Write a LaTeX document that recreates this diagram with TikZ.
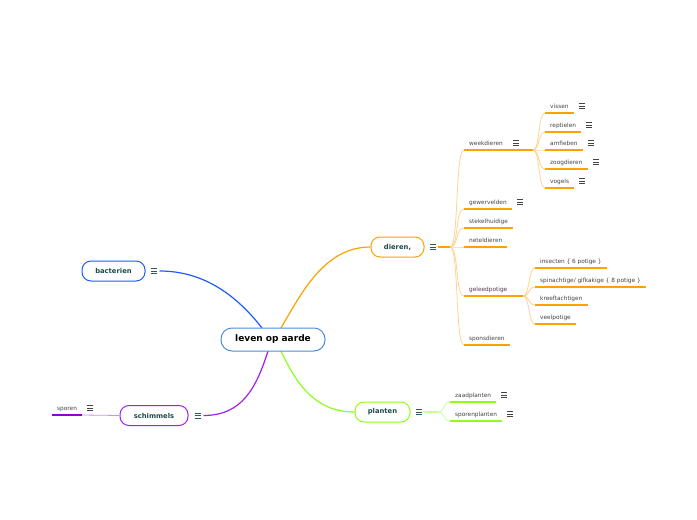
\documentclass[tikz,border=0pt]{standalone}
\usepackage{fontspec}
\setmainfont{DejaVu Sans}
\definecolor{cblue}{HTML}{4A90D9}
\definecolor{bblue}{HTML}{1E5CFF}
\definecolor{orng}{HTML}{FFA200}
\definecolor{lorng}{HTML}{FFD391}
\definecolor{purp}{HTML}{A020F0}
\definecolor{lpurp}{HTML}{CF8FF7}
\definecolor{dpurp}{HTML}{8E00D8}
\definecolor{grn}{HTML}{8CFF1A}
\definecolor{lgrn}{HTML}{C8FF99}
\definecolor{teal}{HTML}{1E4A4A}
\definecolor{icon}{HTML}{2F5A5A}
\definecolor{leafgray}{HTML}{444444}
\begin{document}
\begin{tikzpicture}[x=1pt,y=-1pt,
  central/.style={draw=cblue,line width=1pt,fill=white,rounded corners=11pt,minimum width=104pt,minimum height=23pt,inner sep=0pt,font=\bfseries\fontsize{9pt}{10pt}\selectfont},
  branch/.style={draw=#1,line width=1pt,fill=white,rounded corners=9pt,minimum height=20pt,inner sep=0pt,text=teal,font=\bfseries\fontsize{6.8pt}{8pt}\selectfont},
  leaf/.style={anchor=south west,inner xsep=5pt,inner ysep=4.5pt,text depth=0pt,text height=4pt,text=leafgray,font=\fontsize{5.8pt}{6.5pt}\selectfont},
  under/.style={draw=#1,line width=1.6pt},
  twig/.style={draw=#1,line width=0.8pt},
  mainline/.style={draw=#1,line width=1.2pt},
  menu/.pic={\foreach \dy in {-2.5,0,2.5} \draw[line width=0.9pt] (-3,\dy) -- (3,\dy);}
]
\useasboundingbox (0,0) rectangle (697,520);
\fill[white] (0,0) rectangle (697,520);

% ---------- main branches (drawn first, boxes on top) ----------
\coordinate (cb) at (262,328);
\coordinate (cd) at (281,328);
\coordinate (cs) at (268,351);
\coordinate (cp) at (281,351);

\node[branch=bblue,minimum width=63pt] (bact) at (113.5,271) {bacterien};
\node[branch=orng,minimum width=53pt] (dier) at (397.5,247) {dieren,};
\node[branch=purp,minimum width=68pt] (schim) at (154,415.5) {schimmels};
\node[branch=grn,minimum width=55pt] (plant) at (382.5,412) {planten};

\coordinate (bactend) at ([xshift=14pt]bact.east);
\coordinate (schimend) at ([xshift=15pt]schim.east);
\draw[mainline=bblue] (cb) .. controls +(-25,-32) and +(45,0) .. (bactend);
\draw[mainline=orng] (cd) .. controls +(22,-38) and +(-45,0) .. (dier.west);
\draw[mainline=purp] (cs) .. controls +(-12,38) and +(38,0) .. (schimend);
\draw[mainline=grn] (cp) .. controls +(15,32) and +(-40,0) .. (plant.west);

\node[central] (c) at (273,339.5) {leven op aarde};

\pic[color=icon] at ([xshift=8pt]bact.east) {menu};
\pic[color=icon] at ([xshift=8pt]dier.east) {menu};
\pic[color=icon] at ([xshift=9pt]schim.east) {menu};
\pic[color=icon] at ([xshift=8pt]plant.east) {menu};

% ---------- dieren subtree ----------
\coordinate (dh) at (450,247);
\draw[orng,line width=1.3pt] ([xshift=13pt]dier.east) -- (dh);

\node[leaf] (week) at (464,150) {weekdieren};
\node[leaf] (gewer) at (464,209) {gewervelden};
\node[leaf] (stek) at (464,228) {stekelhuidige};
\node[leaf] (netel) at (464,247) {neteldieren};
\node[leaf] (gele) at (464,296) {geleedpotige};
\node[leaf] (spons) at (464,345) {sponsdieren};

\foreach \n in {week,gewer,stek,netel,gele,spons}
  \draw[twig=lorng] (dh) .. controls +(9,0) and +(-9,0) .. (\n.south west);

\coordinate (wh) at (533,150);
\coordinate (gh) at (523,296);
\draw[under=orng] (week.south west) -- (wh);
\draw[under=orng] (gele.south west) -- (gh);
\foreach \n in {gewer,stek,netel,spons}
  \draw[under=orng] (\n.south west) -- (\n.south east);
\pic[color=leafgray] at ([xshift=8pt]week.east) {menu};
\pic[color=leafgray] at ([xshift=8pt]gewer.east) {menu};

% weekdieren children
\node[leaf] (vis) at (545,113) {vissen};
\node[leaf] (rept) at (545,132) {reptielen};
\node[leaf] (amf) at (545,150) {amfieben};
\node[leaf] (zoog) at (545,169) {zoogdieren};
\node[leaf] (vog) at (545,188) {vogels};
\foreach \n in {vis,rept,amf,zoog,vog}{
  \draw[twig=lorng] (wh) .. controls +(7,0) and +(-7,0) .. (\n.south west);
  \draw[under=orng] (\n.south west) -- (\n.south east);
  \pic[color=leafgray] at ([xshift=8pt]\n.east) {menu};
}

% geleedpotige children
\node[leaf] (ins) at (535,268) {insecten \{ 6 potige \}};
\node[leaf] (spin) at (535,287) {spinachtige/ gifkakige \{ 8 potige \}};
\node[leaf] (kreef) at (535,305) {kreeftachtigen};
\node[leaf] (veel) at (535,324) {veelpotige};
\foreach \n in {ins,spin,kreef,veel}{
  \draw[twig=lorng] (gh) .. controls +(7,0) and +(-7,0) .. (\n.south west);
  \draw[under=orng] (\n.south west) -- (\n.south east);
}

% ---------- schimmels subtree ----------
\node[leaf] (spor) at (52,415) {sporen};
\draw[twig=lpurp] (schim.west) -- (spor.south east);
\draw[under=dpurp] (spor.south west) -- (spor.south east);
\pic[color=leafgray] at ([xshift=8pt]spor.east) {menu};

% ---------- planten subtree ----------
\coordinate (ph) at (438,412);
\draw[twig=lgrn,line width=1.1pt] ([xshift=13pt]plant.east) -- (ph);
\node[leaf] (zaad) at (450,402) {zaadplanten};
\node[leaf] (spp) at (450,421) {sporenplanten};
\foreach \n in {zaad,spp}{
  \draw[twig=lgrn] (ph) .. controls +(7,0) and +(-7,0) .. (\n.south west);
  \draw[under=grn] (\n.south west) -- (\n.south east);
  \pic[color=leafgray] at ([xshift=8pt]\n.east) {menu};
}
\end{tikzpicture}
\end{document}
